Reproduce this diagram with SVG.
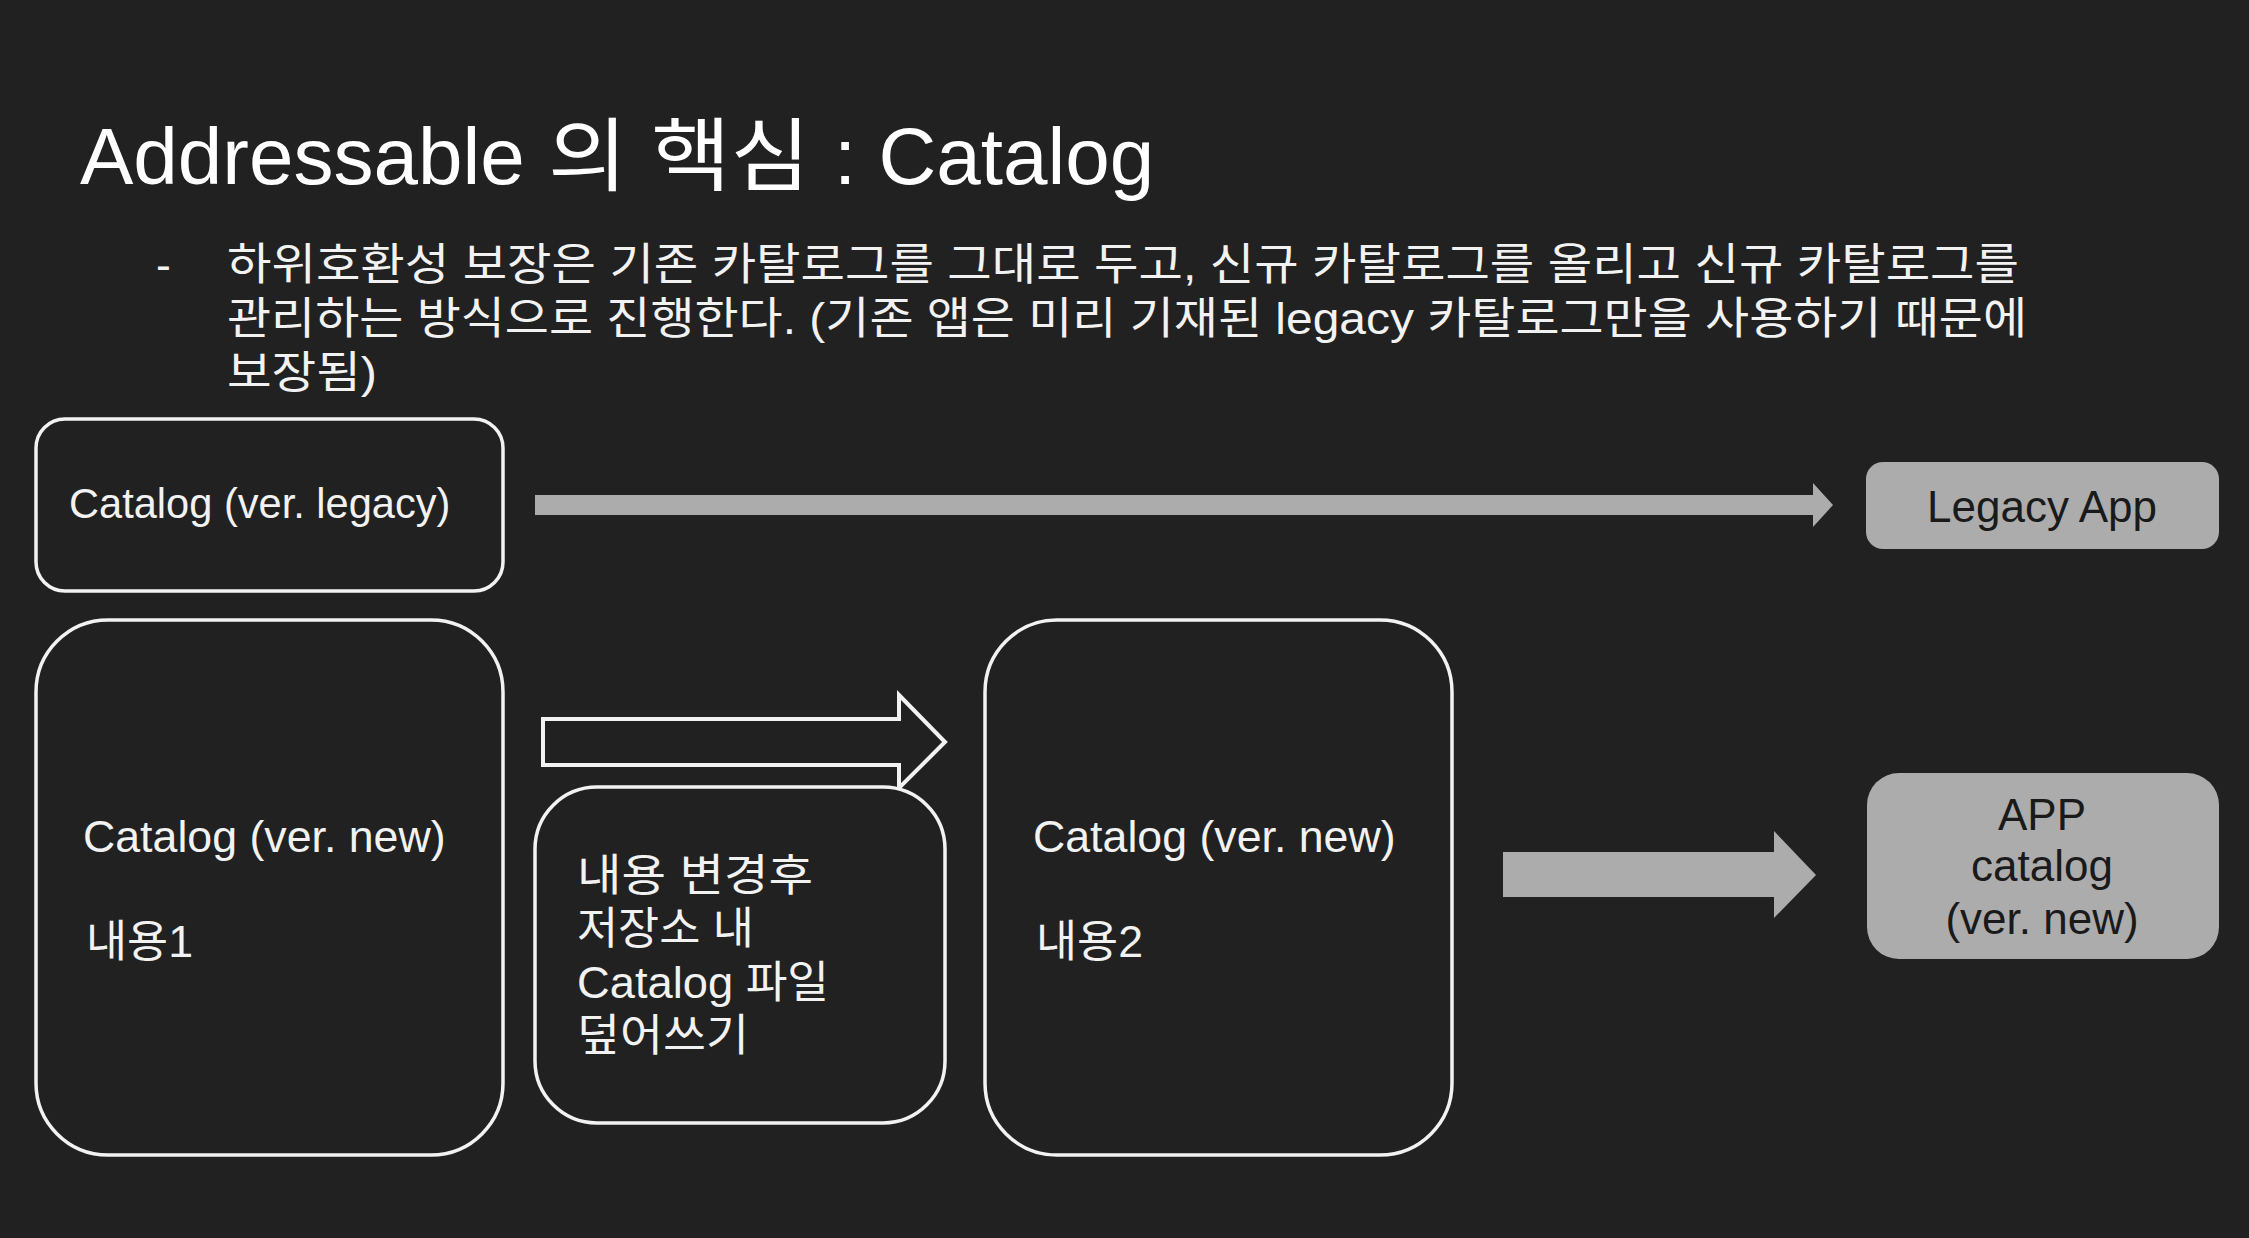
<svg xmlns="http://www.w3.org/2000/svg" width="2249" height="1238" viewBox="0 0 2249 1238">
<style>
text { font-family: "Liberation Sans", "Noto Sans CJK KR", sans-serif; }
.title { font-size: 80px; fill: #ffffff; }
.body { font-size: 44.5px; fill: #f2f2f2; }
.lbl { font-size: 44.7px; fill: #f2f2f2; }
.dark { font-size: 44px; fill: #1a1a1a; text-anchor: middle; }
.box { fill: #212121; stroke: #f2f2f2; stroke-width: 3.5; }
.gbox { fill: #acacac; }
.garrow { fill: #acacac; }
.harrow { fill: none; stroke: #f2f2f2; stroke-width: 4; stroke-linejoin: miter; }
</style>
<rect x="0" y="0" width="2249" height="1238" fill="#212121"/>
<g id="title">
<text class="title" x="80" y="184">Addressable</text>
<text class="title" x="548" y="184" textLength="262" lengthAdjust="spacingAndGlyphs">의 핵심</text>
<text class="title" x="834" y="184">: Catalog</text>
</g>
<g id="bullet">
<text class="body" x="156" y="280">-</text>
<text class="body" x="227" y="280" textLength="1792" lengthAdjust="spacingAndGlyphs">하위호환성 보장은 기존 카탈로그를 그대로 두고, 신규 카탈로그를 올리고 신규 카탈로그를</text>
<text class="body" x="227" y="334" textLength="1800" lengthAdjust="spacingAndGlyphs">관리하는 방식으로 진행한다. (기존 앱은 미리 기재된 legacy 카탈로그만을 사용하기 때문에</text>
<text class="body" x="227" y="388" textLength="150" lengthAdjust="spacingAndGlyphs">보장됨)</text>
</g>
<g id="connectors">
<polygon id="arrow-legacy" class="garrow" points="535,495 1813,495 1813,483 1833,505 1813,527 1813,515 535,515"/>
<polygon id="arrow-overwrite" class="harrow" points="543,719 899,719 899,695 945,742 899,788 899,765 543,765"/>
<polygon id="arrow-app" class="garrow" points="1503,852 1774,852 1774,831 1816,875 1774,918 1774,897 1503,897"/>
</g>
<g id="node-catalog-legacy">
<rect class="box" x="36" y="419" width="467" height="172" rx="29"/>
<text class="lbl" x="69" y="518" style="font-size:41.6px">Catalog (ver. legacy)</text>
</g>
<g id="node-catalog-new1">
<rect class="box" x="36" y="620" width="467" height="535" rx="72"/>
<text class="lbl" x="83" y="852">Catalog (ver. new)</text>
<text class="lbl" x="86" y="957">내용1</text>
</g>
<g id="node-overwrite">
<rect class="box" x="535" y="787" width="410" height="336" rx="62"/>
<text class="lbl" x="577" y="891" textLength="236" lengthAdjust="spacingAndGlyphs">내용 변경후</text>
<text class="lbl" x="577" y="944">저장소 내</text>
<text class="lbl" x="577" y="998" textLength="252" lengthAdjust="spacingAndGlyphs">Catalog 파일</text>
<text class="lbl" x="577" y="1051" textLength="172" lengthAdjust="spacingAndGlyphs">덮어쓰기</text>
</g>
<g id="node-catalog-new2">
<rect class="box" x="985" y="620" width="467" height="535" rx="72"/>
<text class="lbl" x="1033" y="852">Catalog (ver. new)</text>
<text class="lbl" x="1036" y="957">내용2</text>
</g>
<g id="node-legacy-app">
<rect class="gbox" x="1866" y="462" width="353" height="87" rx="17"/>
<text class="dark" x="2042" y="522">Legacy App</text>
</g>
<g id="node-app-catalog">
<rect class="gbox" x="1867" y="773" width="352" height="186" rx="32"/>
<text class="dark" x="2042" y="830">APP</text>
<text class="dark" x="2042" y="881">catalog</text>
<text class="dark" x="2042" y="934">(ver. new)</text>
</g>
</svg>
